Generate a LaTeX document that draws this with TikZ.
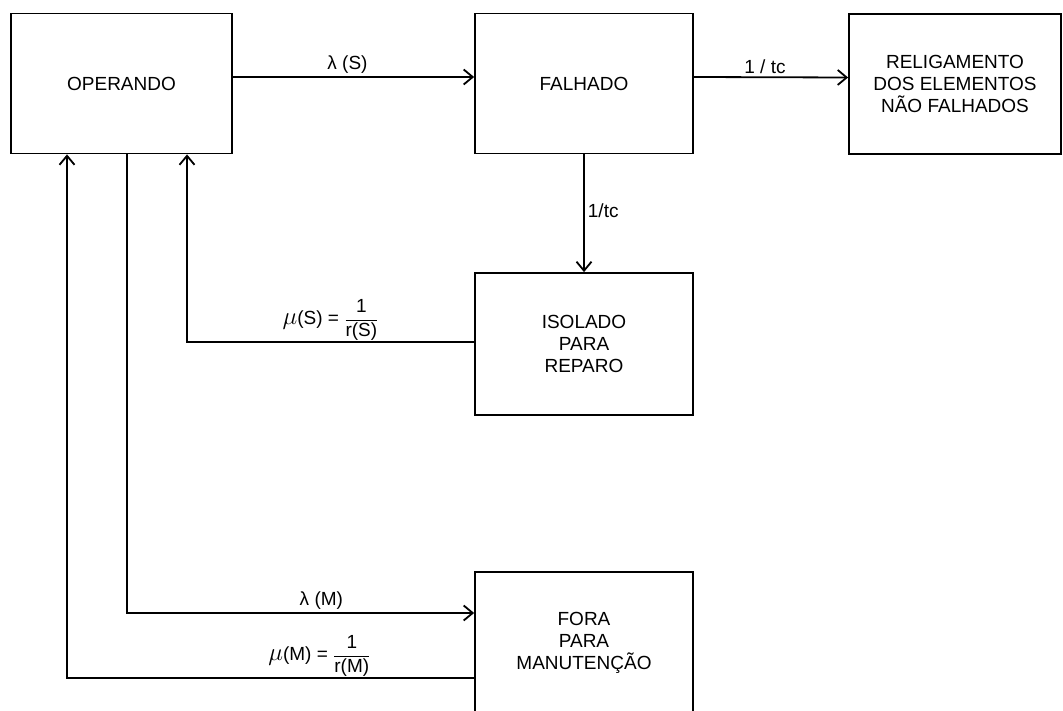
\documentclass[tikz,border=0pt]{standalone}
\usepackage{fontspec}
\setmainfont{Liberation Sans}
\usetikzlibrary{arrows.meta}
\newcommand{\taxa}[2]{{\fontsize{24}{24}\selectfont$\mu$}(#1) = $\displaystyle\frac{\hbox{1}}{\hbox{#2}}$}

\begin{document}
\begin{tikzpicture}[x=1pt,y=-1pt,
  caixa/.style={draw, line width=1.8pt, minimum width=218pt, minimum height=140pt,
    align=center, font=\fontsize{19}{22}\selectfont},
  seta/.style={line width=1.8pt, -{Straight Barb[length=9pt,width=15pt,line width=1.8pt]}},
  rot/.style={font=\fontsize{19}{22}\selectfont, inner sep=3pt}]
  \useasboundingbox (0,0) rectangle (1063,711);
  % estados
  \node[caixa, minimum width=221pt] (op) at (121.5,83.5) {OPERANDO};
  \node[caixa] (fa) at (584,83.5) {FALHADO};
  \node[caixa, minimum width=212pt] (re) at (955,84) {RELIGAMENTO\\DOS ELEMENTOS\\NÃO FALHADOS};
  \node[caixa, minimum height=142pt] (is) at (584,344) {ISOLADO\\PARA\\REPARO};
  \node[caixa, minimum height=142pt] (fo) at (584,643) {FORA\\PARA\\MANUTENÇÃO};
  % falha
  \draw[seta] ([yshift=6.5pt]op.east) -- ([yshift=6.5pt]fa.west)
    node[rot, midway, above, xshift=-6pt] {λ (S)};
  \draw[seta] ([yshift=6.5pt]fa.east) -- ([yshift=6.5pt]re.west)
    node[rot, midway, above, xshift=-6pt] {1 / tc};
  \draw[seta] (fa.south) -- (is.north)
    node[rot, midway, right, yshift=3pt] {1/tc};
  % reparo
  \draw[seta] ([yshift=2pt]is.west) -| ([xshift=65.5pt]op.south)
    node[rot, pos=0.25, above, inner sep=1pt] {\taxa{S}{r(S)}};
  % manutencao
  \draw[seta] ([xshift=5.5pt]op.south) |- ([yshift=30pt]fo.west)
    node[rot, pos=0.78, above] {λ (M)};
  \draw[seta] ([yshift=-35pt]fo.west) -| ([xshift=-54.5pt]op.south)
    node[rot, pos=0.19, above, inner sep=1pt] {\taxa{M}{r(M)}};
\end{tikzpicture}
\end{document}
